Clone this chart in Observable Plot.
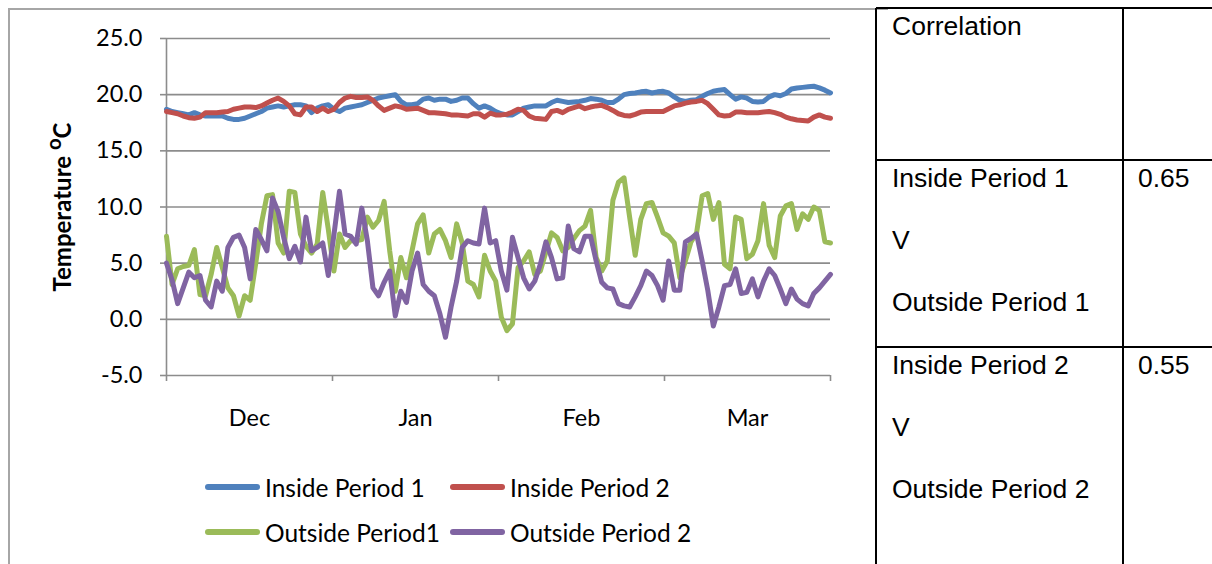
<!DOCTYPE html>
<html>
<head>
<meta charset="utf-8">
<script src="https://cdn.jsdelivr.net/npm/d3@7"></script>
<script src="https://cdn.jsdelivr.net/npm/@observablehq/plot@0.6"></script>
<style>
  html, body { margin: 0; padding: 0; background: #fff; }
  body { width: 1212px; height: 564px; overflow: hidden; position: relative; font-family: Lato, "Open Sans", sans-serif; color: #000; }
  #frame { position: absolute; left: 8px; top: 8px; width: 880px; height: 570px; border-left: 2px solid #a6a6a6; border-top: 2px solid #a6a6a6; box-sizing: border-box; }
  #chart { position: absolute; left: 0; top: 0; }
  #ylab { position: absolute; left: 61px; top: 207px; transform: translate(-50%, -50%) rotate(-90deg); font-weight: bold; font-size: 24px; white-space: nowrap; }
  #ylab sup { font-size: 0.85em; vertical-align: 0.45em; line-height: 0; }
  .leg { position: absolute; display: flex; align-items: center; font-size: 24.5px; white-space: nowrap; }
  .leg .sw { width: 55px; height: 6px; border-radius: 3px; margin-right: 5px; }
  .tbl-line { position: absolute; background: #000; }
  .cell { position: absolute; font-family: "Liberation Sans", Arial, sans-serif; font-size: 26.5px; white-space: nowrap; transform: translateY(-50%); }
</style>
</head>
<body>
<div id="frame"></div>
<div id="chart"></div>
<div id="ylab">Temperature <sup>o</sup>C</div>
<div id="legend"></div>
<div id="table"></div>
<script>
// Daily temperatures, December to March (one value per day)
const months = ["Dec", "Jan", "Feb", "Mar"];
const yTicks = [-5, 0, 5, 10, 15, 20, 25];
const seriesNames = ["Inside Period 1", "Inside Period 2", "Outside Period1", "Outside Period 2"];
const seriesColors = ["#4F81BD", "#C0504D", "#9BBB59", "#8064A2"];

const insideP1 = [
  18.7, 18.5, 18.4, 18.3, 18.2, 18.4, 18.2, 18.1, 18.1, 18.1,
  18.1, 17.9, 17.8, 17.8, 17.9, 18.1, 18.3, 18.5, 18.8, 18.9,
  19.0, 18.9, 19.0, 19.1, 19.1, 19.0, 18.4, 18.8, 19.0, 19.1,
  18.7, 18.5, 18.8, 18.9, 19.0, 19.1, 19.3, 19.5, 19.7, 19.8,
  19.9, 20.0, 19.4, 19.1, 19.1, 19.2, 19.6, 19.7, 19.5, 19.6,
  19.6, 19.4, 19.5, 19.7, 19.7, 19.2, 18.8, 19.0, 18.8, 18.5,
  18.3, 18.2, 18.2, 18.5, 18.8, 18.9, 19.0, 19.0, 19.0, 19.3,
  19.5, 19.4, 19.3, 19.35, 19.4, 19.5, 19.65, 19.6, 19.5, 19.3,
  19.3, 19.6, 20.0, 20.1, 20.15, 20.25, 20.3, 20.15, 20.25, 20.3,
  20.15, 19.8, 19.5, 19.4, 19.5, 19.55, 19.85, 20.1, 20.3, 20.4,
  20.45, 20.0, 19.6, 19.8, 19.7, 19.4, 19.35, 19.4, 19.8, 20.0,
  19.9, 20.1, 20.5, 20.6, 20.65, 20.7, 20.75, 20.6, 20.4, 20.15
];
const insideP2 = [
  18.5, 18.4, 18.3, 18.1, 17.95, 17.9, 18.0, 18.4, 18.4, 18.4,
  18.45, 18.5, 18.7, 18.8, 18.9, 18.9, 18.85, 19.0, 19.25, 19.5,
  19.7, 19.4, 19.0, 18.3, 18.2, 18.9, 18.9, 18.5, 18.8, 18.5,
  18.7, 19.3, 19.7, 19.85, 19.75, 19.75, 19.8, 19.5, 19.0, 18.6,
  18.8, 19.0, 18.9, 18.7, 18.75, 18.8, 18.6, 18.4, 18.4, 18.35,
  18.3, 18.2, 18.2, 18.15, 18.1, 18.3, 18.3, 18.0, 18.35, 18.2,
  18.2, 18.25, 18.45, 18.7, 18.6, 18.1, 17.9, 17.85, 17.8, 18.5,
  18.6, 18.4, 18.7, 18.85, 19.0, 18.75, 18.9, 19.0, 19.05, 18.85,
  18.6, 18.3, 18.15, 18.1, 18.25, 18.45, 18.5, 18.5, 18.5, 18.5,
  18.75, 19.0, 19.1, 19.25, 19.35, 19.4, 19.5, 19.2, 18.7, 18.2,
  18.1, 18.15, 18.45, 18.45, 18.4, 18.4, 18.4, 18.45, 18.5, 18.4,
  18.25, 18.0, 17.85, 17.75, 17.7, 17.65, 18.0, 18.2, 18.0, 17.9
];
const outsideP1 = [
  7.4, 3.1, 4.5, 4.7, 4.8, 6.2, 2.2, 2.1, 4.0, 6.4,
  4.6, 2.8, 2.1, 0.3, 2.1, 1.7, 5.0, 8.5, 11.0, 11.1,
  6.8, 5.9, 11.4, 11.3, 7.6, 6.5, 5.9, 6.7, 11.3, 8.0,
  4.3, 7.6, 6.4, 7.0, 7.0, 7.1, 9.1, 8.2, 8.8, 10.5,
  6.1, 2.5, 5.5, 3.7, 6.1, 8.5, 9.3, 5.9, 7.6, 8.0,
  7.0, 5.5, 8.5, 6.8, 3.4, 3.1, 2.0, 5.7, 4.3, 3.4,
  0.2, -1.0, -0.4, 4.6, 5.2, 6.0, 4.0, 4.3, 6.0, 7.7,
  7.3, 6.1, 6.4, 7.2, 7.9, 8.3, 9.7, 5.5, 4.3, 5.2,
  10.6, 12.2, 12.6, 9.1, 5.7, 8.9, 10.3, 10.4, 9.1, 7.7,
  7.4, 6.8, 3.7, 5.2, 6.9, 7.7, 11.0, 11.2, 8.9, 10.4,
  4.9, 4.5, 9.1, 8.9, 5.4, 5.8, 7.0, 10.3, 6.6, 5.5,
  9.2, 10.1, 10.3, 8.0, 9.4, 8.9, 10.0, 9.7, 6.9, 6.8
];
const outsideP2 = [
  5.0, 3.5, 1.4, 2.8, 4.2, 3.7, 3.9, 1.7, 1.1, 3.4,
  2.5, 6.4, 7.3, 7.5, 6.4, 3.6, 8.0, 7.1, 6.1, 10.8,
  9.6, 7.3, 5.4, 6.5, 5.1, 9.1, 6.1, 6.4, 6.8, 3.9,
  7.5, 11.4, 7.6, 7.4, 6.7, 9.9, 7.0, 2.8, 2.1, 3.3,
  4.3, 0.3, 2.5, 1.5, 4.3, 5.9, 3.1, 2.5, 2.1, 0.5,
  -1.6, 1.1, 3.4, 6.4, 7.0, 6.8, 6.7, 9.9, 6.8, 7.0,
  4.3, 2.6, 7.3, 5.5, 3.7, 2.7, 3.4, 4.9, 6.9, 5.5,
  3.6, 3.7, 8.3, 6.3, 6.0, 7.4, 7.4, 5.2, 3.3, 2.8,
  2.7, 1.4, 1.2, 1.1, 2.0, 3.0, 4.3, 3.9, 3.0, 1.7,
  5.2, 2.6, 2.6, 6.9, 7.2, 7.6, 5.2, 2.6, -0.6, 1.1,
  3.0, 3.1, 4.5, 2.3, 2.4, 3.6, 2.0, 3.4, 4.5, 3.9,
  2.7, 1.4, 2.7, 1.8, 1.4, 1.2, 2.3, 2.8, 3.4, 4.0
];

const correlationLabels = [["Inside Period 1", "V", "Outside Period 1"], ["Inside Period 2", "V", "Outside Period 2"]];
const correlationValues = ["0.65", "0.55"];

// Long-format rows for the line mark
const allSeries = [insideP1, insideP2, outsideP1, outsideP2];
const rows = [];
allSeries.forEach((vals, k) => vals.forEach((v, i) => rows.push({day: i, temp: v, series: seriesNames[k]})));

const span = insideP1.length - 1;
const monthWidth = span / months.length;
const monthEdges = d3.range(months.length + 1).map(k => k * monthWidth);
const monthCenters = months.map((m, k) => (k + 0.5) * monthWidth);
const gridColor = "#8c8c8c";

const chart = Plot.plot({
  width: 876,
  height: 450,
  marginLeft: 166,
  marginRight: 46,
  marginTop: 38,
  marginBottom: 75,
  x: {domain: [0, span]},
  y: {domain: [-5, 25]},
  color: {domain: seriesNames, range: seriesColors},
  style: {fontFamily: "Lato, 'Open Sans', sans-serif", fontSize: "23.5px", color: "#000", background: "transparent", overflow: "visible"},
  marks: [
    Plot.ruleY(yTicks, {stroke: gridColor, strokeWidth: 1.6}),
    Plot.ruleX([0], {stroke: gridColor, strokeWidth: 1.6}),
    Plot.axisY({ticks: yTicks, tickFormat: d => d.toFixed(1), tickSize: 6, tickPadding: 18, label: null, stroke: gridColor, strokeWidth: 1.6, fill: "#000"}),
    Plot.axisX({ticks: monthEdges, tickFormat: () => "", tickSize: 6, label: null, stroke: gridColor, strokeWidth: 1.6}),
    Plot.axisX({ticks: monthCenters, tickFormat: d => months[Math.round(d / monthWidth - 0.5)], tickSize: 0, tickPadding: 34, label: null, fill: "#000"}),
    Plot.lineY(rows, {x: "day", y: "temp", z: "series", stroke: "series", strokeWidth: 5, strokeLinejoin: "round", strokeLinecap: "round"})
  ]
});
document.getElementById("chart").appendChild(chart);

// Legend in two rows of two
const legend = document.getElementById("legend");
const legPos = [[205, 487], [450, 487], [205, 532], [450, 532]];
seriesNames.forEach((name, k) => {
  const item = document.createElement("div");
  item.className = "leg";
  item.style.left = legPos[k][0] + "px";
  item.style.top = (legPos[k][1] - 15) + "px";
  item.style.height = "30px";
  const sw = document.createElement("span");
  sw.className = "sw";
  sw.style.background = seriesColors[k];
  const label = document.createElement("span");
  label.textContent = name;
  item.appendChild(sw);
  item.appendChild(label);
  legend.appendChild(item);
});

// Correlation table on the right
const table = document.getElementById("table");
function hLine(x, y, w) {
  const d = document.createElement("div");
  d.className = "tbl-line";
  Object.assign(d.style, {left: x + "px", top: (y - 1) + "px", width: w + "px", height: "2px"});
  table.appendChild(d);
}
function vLine(x, y, h) {
  const d = document.createElement("div");
  d.className = "tbl-line";
  Object.assign(d.style, {left: (x - 1) + "px", top: y + "px", width: "2px", height: h + "px"});
  table.appendChild(d);
}
function cell(text, x, y) {
  const d = document.createElement("div");
  d.className = "cell";
  d.textContent = text;
  d.style.left = x + "px";
  d.style.top = y + "px";
  table.appendChild(d);
}
hLine(876, 8, 340);
hLine(876, 160, 340);
hLine(876, 347, 340);
vLine(876, 8, 560);
vLine(1123, 8, 560);
cell("Correlation", 892, 26);
const blockTops = [178, 365];
correlationLabels.forEach((lines, b) => {
  lines.forEach((t, j) => cell(t, 892, blockTops[b] + j * 62));
  cell(correlationValues[b], 1138, blockTops[b]);
});
</script>
</body>
</html>
